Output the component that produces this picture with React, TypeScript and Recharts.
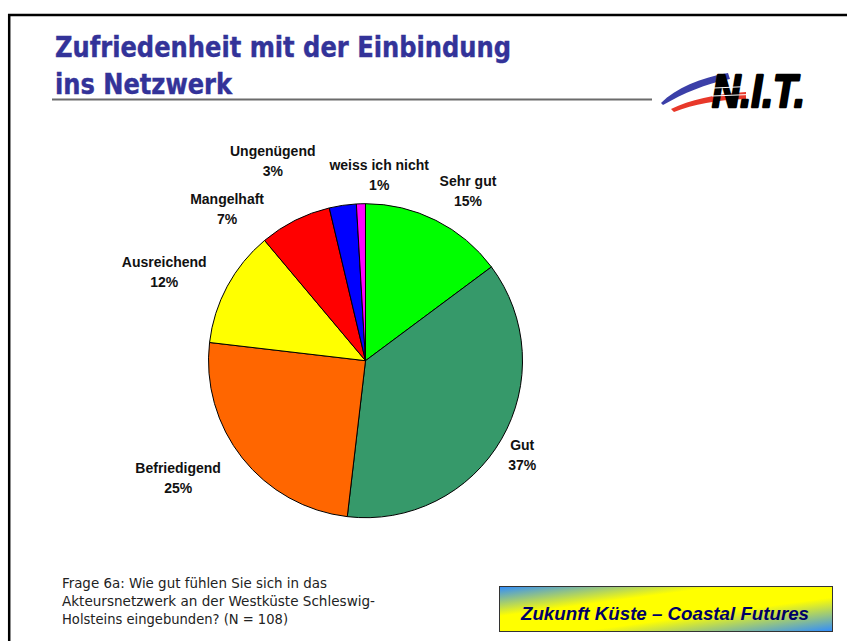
import { PieChart, Pie, Cell } from 'recharts';

// Antworten auf Frage 6a (N = 108)
const categories = [
  'Sehr gut',
  'Gut',
  'Befriedigend',
  'Ausreichend',
  'Mangelhaft',
  'Ungenügend',
  'weiss ich nicht',
];
const counts = [16, 40, 27, 13, 8, 3, 1];
const sliceColors = ['#00ff00', '#36996a', '#ff6600', '#ffff00', '#ff0000', '#0000ff', '#ff00ff'];

const titleLines = ['Zufriedenheit mit der Einbindung', 'ins Netzwerk'];
const questionLines = [
  'Frage 6a: Wie gut fühlen Sie sich in das',
  'Akteursnetzwerk an der Westküste Schleswig-',
  'Holsteins eingebunden? (N = 108)',
];
const bannerText = 'Zukunft Küste – Coastal Futures';

// label layout: angle shift (deg, clockwise) and distance beyond the rim
const labelTurn = [4.5, 1.1, 6.3, -4.5, -15.8, -16.6, 5.9];
const labelReach = [41, 26, 64, 63, 48, 63, 29];

const W = 847;
const H = 641;
const CX = 365.5;
const CY = 360.7;
const R = 157;

const data = categories.map((name, i) => ({ name, value: counts[i] }));

function renderLabel(props: any) {
  const { midAngle, outerRadius, percent, index } = props;
  const cx = props.cx ?? CX;
  const cy = props.cy ?? CY;
  const theta = ((90 - midAngle + labelTurn[index]) * Math.PI) / 180;
  const dist = (outerRadius ?? R) + labelReach[index];
  const x = cx + dist * Math.sin(theta);
  const y = cy - dist * Math.cos(theta);
  return (
    <text
      x={x}
      y={y}
      textAnchor="middle"
      fontFamily="'Liberation Sans', Arial, sans-serif"
      fontWeight="bold"
      fontSize={14}
      fill="#111"
    >
      <tspan x={x} y={y - 5}>
        {categories[index]}
      </tspan>
      <tspan x={x} y={y + 15}>
        {`${Math.round(percent * 100)}%`}
      </tspan>
    </text>
  );
}

function Decor() {
  return (
    <svg width={W} height={H} style={{ position: 'absolute', left: 0, top: 0 }}>
      <defs>
        <linearGradient id="banner" x1="0" y1="0" x2="1" y2="1">
          <stop offset="0%" stopColor="#2f8cff" />
          <stop offset="33%" stopColor="#ffff00" />
          <stop offset="62%" stopColor="#ffff00" />
          <stop offset="100%" stopColor="#2f8cff" />
        </linearGradient>
      </defs>
      {/* frame */}
      <line x1={8} y1={15} x2={W} y2={15} stroke="#000" strokeWidth={2.5} />
      <line x1={9.2} y1={14} x2={9.2} y2={H} stroke="#000" strokeWidth={2.5} />

      {/* title */}
      {titleLines.map((t, i) => (
        <text
          key={t}
          x={55}
          y={57 + i * 37}
          textLength={i === 0 ? 456 : 177}
          lengthAdjust="spacingAndGlyphs"
          fontFamily="'Liberation Sans Narrow', 'DejaVu Sans Condensed', Arial, sans-serif"
          fontWeight="bold"
          fontSize={28}
          fill="#333399"
          stroke="#333399"
          strokeWidth={0.4}
        >
          {t}
        </text>
      ))}
      <line x1={52} y1={99.5} x2={652} y2={99.5} stroke="#6b6b6b" strokeWidth={2} />

      {/* N.I.T. logo */}
      <path d="M661,103 C676,88 700,78 728,73 L730,79 C705,84 684,93 663,105 Z" fill="#3b3fa8" />
      <path d="M671,109 C690,100 714,94 746,92 L746,99 C716,100 694,104 674,112 Z" fill="#e8382a" />
      <text
        x={712}
        y={107}
        textLength={93}
        lengthAdjust="spacingAndGlyphs"
        fontFamily="'Liberation Sans', Arial, sans-serif"
        fontWeight="bold"
        fontStyle="italic"
        fontSize={47}
        fill="#000"
        stroke="#000"
        strokeWidth={2.5}
        strokeLinejoin="round"
      >
        N.I.T.
      </text>
      <line x1={714} y1={88} x2={748} y2={86.5} stroke="#fff" strokeWidth={1} />
      <line x1={712} y1={96} x2={750} y2={94.5} stroke="#fff" strokeWidth={1} />

      {/* question */}
      {questionLines.map((t, i) => (
        <text
          key={t}
          x={62}
          y={588 + i * 18}
          textLength={[265, 313, 226][i]}
          lengthAdjust="spacingAndGlyphs"
          fontFamily="'Liberation Sans Narrow', 'DejaVu Sans Condensed', Arial, sans-serif"
          fontSize={14}
          fill="#222"
        >
          {t}
        </text>
      ))}

      {/* banner */}
      <rect x={499.5} y={586.5} width={333} height={45} fill="url(#banner)" stroke="#333" strokeWidth={1} />
      <text
        x={521}
        y={620}
        textLength={288}
        lengthAdjust="spacingAndGlyphs"
        fontFamily="'Liberation Sans', Arial, sans-serif"
        fontWeight="bold"
        fontStyle="italic"
        fontSize={18}
        fill="#000066"
      >
        {bannerText}
      </text>
    </svg>
  );
}

export default function App() {
  return (
    <div style={{ position: 'absolute', left: 0, top: 0, width: W, height: H, background: '#fff' }}>
      <Decor />
      <div style={{ position: 'absolute', left: 0, top: 0 }}>
        <PieChart width={W} height={H} margin={{ top: 0, right: 0, bottom: 0, left: 0 }}>
          <Pie
            data={data}
            dataKey="value"
            nameKey="name"
            cx={CX}
            cy={CY}
            outerRadius={R}
            startAngle={90}
            endAngle={-270}
            stroke="#000"
            strokeWidth={1}
            label={renderLabel}
            labelLine={false}
            isAnimationActive={false}
          >
            {data.map((d, i) => (
              <Cell key={d.name} fill={sliceColors[i]} />
            ))}
          </Pie>
        </PieChart>
      </div>
    </div>
  );
}
